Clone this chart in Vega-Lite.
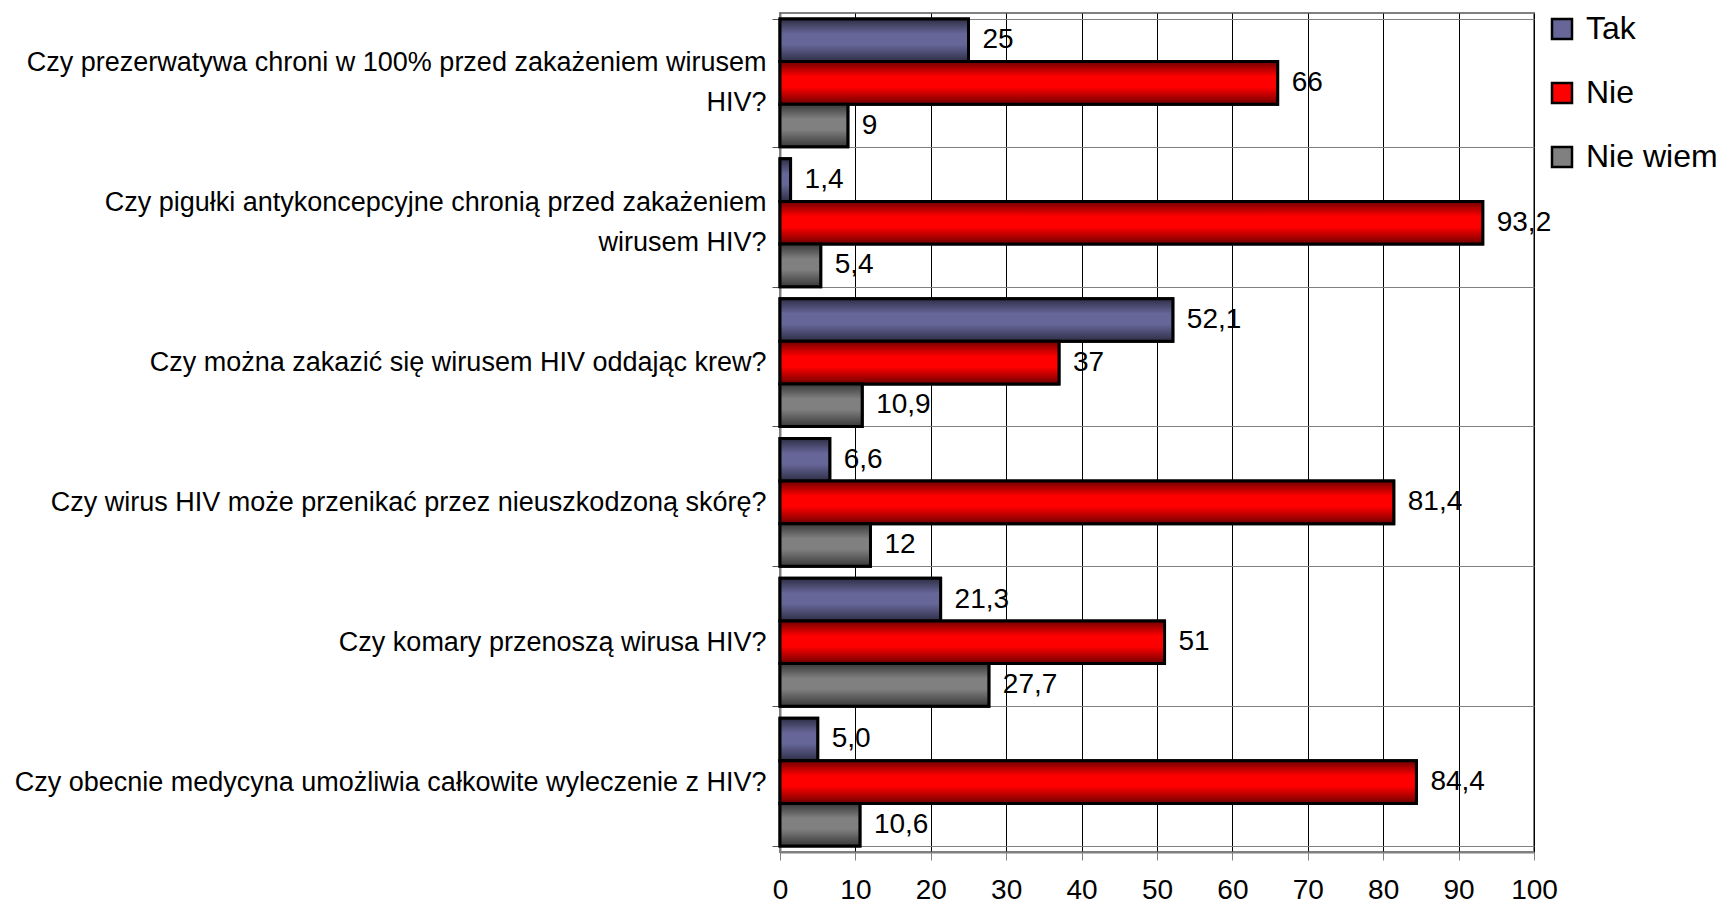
{
  "$schema": "https://vega.github.io/schema/vega-lite/v6.json",
  "autosize": {"type": "none"},
  "padding": {"left": 780, "top": 13, "right": 190, "bottom": 57},
  "width": 754,
  "height": 839,
  "background": "white",
  "config": {
    "font": "Liberation Sans",
    "view": {"stroke": "#808080", "strokeWidth": 2}
  },
  "data": {
    "values": [
      {"category": "Czy prezerwatywa chroni w 100% przed zakażeniem wirusem\nHIV?", "series": "Tak", "value": 25, "label": "25"},
      {"category": "Czy prezerwatywa chroni w 100% przed zakażeniem wirusem\nHIV?", "series": "Nie", "value": 66, "label": "66"},
      {"category": "Czy prezerwatywa chroni w 100% przed zakażeniem wirusem\nHIV?", "series": "Nie wiem", "value": 9, "label": "9"},
      {"category": "Czy pigułki antykoncepcyjne chronią przed zakażeniem\nwirusem HIV?", "series": "Tak", "value": 1.4, "label": "1,4"},
      {"category": "Czy pigułki antykoncepcyjne chronią przed zakażeniem\nwirusem HIV?", "series": "Nie", "value": 93.2, "label": "93,2"},
      {"category": "Czy pigułki antykoncepcyjne chronią przed zakażeniem\nwirusem HIV?", "series": "Nie wiem", "value": 5.4, "label": "5,4"},
      {"category": "Czy można zakazić się wirusem HIV oddając krew?", "series": "Tak", "value": 52.1, "label": "52,1"},
      {"category": "Czy można zakazić się wirusem HIV oddając krew?", "series": "Nie", "value": 37, "label": "37"},
      {"category": "Czy można zakazić się wirusem HIV oddając krew?", "series": "Nie wiem", "value": 10.9, "label": "10,9"},
      {"category": "Czy wirus HIV może przenikać przez nieuszkodzoną skórę?", "series": "Tak", "value": 6.6, "label": "6,6"},
      {"category": "Czy wirus HIV może przenikać przez nieuszkodzoną skórę?", "series": "Nie", "value": 81.4, "label": "81,4"},
      {"category": "Czy wirus HIV może przenikać przez nieuszkodzoną skórę?", "series": "Nie wiem", "value": 12, "label": "12"},
      {"category": "Czy komary przenoszą wirusa HIV?", "series": "Tak", "value": 21.3, "label": "21,3"},
      {"category": "Czy komary przenoszą wirusa HIV?", "series": "Nie", "value": 51, "label": "51"},
      {"category": "Czy komary przenoszą wirusa HIV?", "series": "Nie wiem", "value": 27.7, "label": "27,7"},
      {"category": "Czy obecnie medycyna umożliwia całkowite wyleczenie z HIV?", "series": "Tak", "value": 5.0, "label": "5,0"},
      {"category": "Czy obecnie medycyna umożliwia całkowite wyleczenie z HIV?", "series": "Nie", "value": 84.4, "label": "84,4"},
      {"category": "Czy obecnie medycyna umożliwia całkowite wyleczenie z HIV?", "series": "Nie wiem", "value": 10.6, "label": "10,6"}
    ]
  },
  "encoding": {
    "y": {
      "field": "category",
      "type": "nominal",
      "sort": null,
      "title": null,
      "scale": {"paddingInner": 0.086, "paddingOuter": 0.043},
      "axis": {
        "tickBand": "extent",
        "grid": true,
        "gridColor": "#808080",
        "gridWidth": 1,
        "domainColor": "#808080",
        "domainWidth": 2,
        "tickColor": "#555555",
        "tickSize": 8,
        "labelPadding": 6,
        "labelFontSize": 27,
        "labelColor": "black",
        "labelLimit": 900,
        "labelAlign": "right",
        "labelBaseline": "middle",
        "labelLineHeight": 40,
        "labelOffset": {"condition": {"test": "datum.value == 'Czy prezerwatywa chroni w 100% przed zakażeniem wirusem\\nHIV?' || datum.value == 'Czy pigułki antykoncepcyjne chronią przed zakażeniem\\nwirusem HIV?'", "value": -20}, "value": 0},
        "labelExpr": "split(datum.label, '\\n')"
      }
    },
    "yOffset": {
      "field": "series",
      "type": "nominal",
      "sort": ["Tak", "Nie", "Nie wiem"],
      "scale": {"paddingInner": 0, "paddingOuter": 0}
    },
    "x": {
      "field": "value",
      "type": "quantitative",
      "title": null,
      "scale": {"domain": [0, 100], "nice": false},
      "axis": {
        "values": [0, 10, 20, 30, 40, 50, 60, 70, 80, 90, 100],
        "grid": true,
        "gridColor": "black",
        "gridWidth": 1,
        "domainColor": "#808080",
        "domainWidth": 2,
        "tickColor": "#808080",
        "tickSize": 8,
        "labelPadding": 16,
        "labelFontSize": 28,
        "labelColor": "black",
        "labelFlush": false
      }
    }
  },
  "layer": [
    {
      "mark": {"type": "bar", "stroke": "black", "strokeWidth": 3},
      "encoding": {
        "color": {
          "field": "series",
          "type": "nominal",
          "sort": ["Tak", "Nie", "Nie wiem"],
          "scale": {"domain": ["Tak", "Nie", "Nie wiem"], "range": ["#666699", "#FF0000", "#808080"]},
          "legend": {
            "title": null,
            "orient": "right",
            "offset": 12,
            "padding": 0,
            "symbolType": "square",
            "symbolSize": 400,
            "symbolStrokeColor": "black",
            "symbolStrokeWidth": 2.5,
            "labelFontSize": 32,
            "labelColor": "black",
            "labelOffset": 8,
            "rowPadding": 32,
            "labelLimit": 300
          }
        }
      }
    },
    {
      "transform": [{"filter": "datum.series === 'Tak'"}],
      "mark": {
        "type": "bar",
        "stroke": "black",
        "strokeWidth": 3,
        "fill": {
          "gradient": "linear", "x1": 0, "y1": 0, "x2": 0, "y2": 1,
          "stops": [
            {"offset": 0, "color": "#2e2e45"},
            {"offset": 0.35, "color": "#666699"},
            {"offset": 0.6, "color": "#666699"},
            {"offset": 1, "color": "#2e2e45"}
          ]
        }
      },
      "encoding": {}
    },
    {
      "transform": [{"filter": "datum.series === 'Nie'"}],
      "mark": {
        "type": "bar",
        "stroke": "black",
        "strokeWidth": 3,
        "fill": {
          "gradient": "linear", "x1": 0, "y1": 0, "x2": 0, "y2": 1,
          "stops": [
            {"offset": 0, "color": "#700000"},
            {"offset": 0.35, "color": "#FF0000"},
            {"offset": 0.6, "color": "#FF0000"},
            {"offset": 1, "color": "#700000"}
          ]
        }
      },
      "encoding": {}
    },
    {
      "transform": [{"filter": "datum.series === 'Nie wiem'"}],
      "mark": {
        "type": "bar",
        "stroke": "black",
        "strokeWidth": 3,
        "fill": {
          "gradient": "linear", "x1": 0, "y1": 0, "x2": 0, "y2": 1,
          "stops": [
            {"offset": 0, "color": "#383838"},
            {"offset": 0.35, "color": "#808080"},
            {"offset": 0.6, "color": "#808080"},
            {"offset": 1, "color": "#383838"}
          ]
        }
      },
      "encoding": {}
    },
    {
      "mark": {"type": "text", "align": "left", "baseline": "middle", "dx": 14, "fontSize": 28, "color": "black"},
      "encoding": {"text": {"field": "label", "type": "nominal"}}
    }
  ]
}
